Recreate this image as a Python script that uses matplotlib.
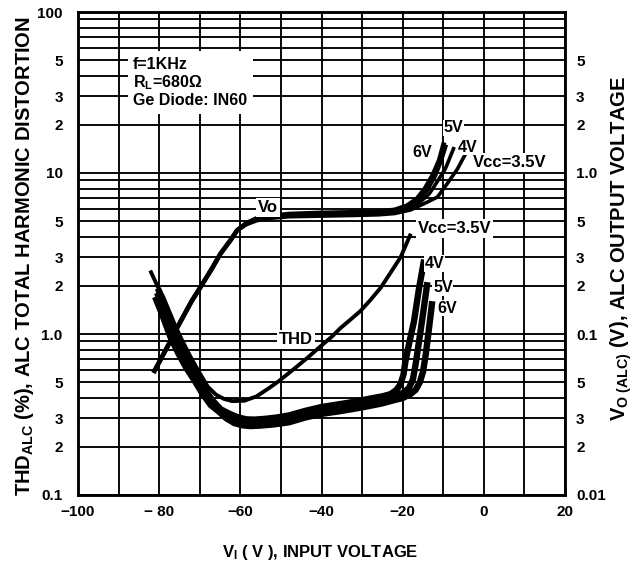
import matplotlib
matplotlib.use('Agg')
import matplotlib.pyplot as plt
from matplotlib.ticker import FixedLocator, NullLocator

plt.rcParams['font.family'] = ['Liberation Sans', 'DejaVu Sans']
plt.rcParams['font.weight'] = 'bold'
plt.rcParams['mathtext.fontset'] = 'custom'
plt.rcParams['mathtext.rm'] = 'Liberation Sans:bold'
plt.rcParams['mathtext.it'] = 'Liberation Sans:bold'
plt.rcParams['mathtext.bf'] = 'Liberation Sans:bold'
plt.rcParams['axes.unicode_minus'] = True

# ---------------- data ----------------
# Vo (ALC output voltage, V) vs input level, per supply voltage
vo_35_x = [-81.4, -78, -75.6, -72, -69.9, -67, -64.9, -62.5, -60.8, -58.5, -56, -53, -48, -40, -32, -26, -22, -18, -13.9, -11.4, -9, -6.5, -4.4]
vo_35_y = [0.0575, 0.083, 0.109, 0.16, 0.194, 0.255, 0.315, 0.38, 0.44, 0.478, 0.505, 0.522, 0.535, 0.54, 0.545, 0.55, 0.56, 0.59, 0.66, 0.71, 0.86, 1.06, 1.33]
vo_4_x = [-81.4, -78, -75.6, -72, -69.9, -67, -64.9, -62.5, -60.8, -58.5, -56, -53, -48, -40, -32, -26, -22, -19, -16, -13.5, -12.3, -9.5, -7.3]
vo_4_y = [0.0575, 0.083, 0.109, 0.16, 0.194, 0.255, 0.315, 0.38, 0.44, 0.482, 0.512, 0.53, 0.545, 0.552, 0.556, 0.56, 0.57, 0.6, 0.65, 0.74, 0.82, 1.06, 1.45]
vo_5_x = [-81.4, -78, -75.6, -72, -69.9, -67, -64.9, -62.5, -60.8, -58.5, -56, -53, -48, -40, -32, -26, -22, -19, -16, -14, -12, -10.5, -9.3]
vo_5_y = [0.0575, 0.083, 0.109, 0.16, 0.194, 0.255, 0.315, 0.38, 0.44, 0.485, 0.518, 0.536, 0.552, 0.56, 0.565, 0.57, 0.585, 0.615, 0.68, 0.78, 0.96, 1.2, 1.5]
vo_6_x = [-81.4, -78, -75.6, -72, -69.9, -67, -64.9, -62.5, -60.8, -58.5, -56, -53, -48, -40, -32, -26, -22, -19, -16.5, -14.5, -12.5, -11, -9.8]
vo_6_y = [0.0575, 0.083, 0.109, 0.16, 0.194, 0.255, 0.315, 0.38, 0.44, 0.488, 0.522, 0.54, 0.556, 0.565, 0.57, 0.575, 0.59, 0.625, 0.69, 0.8, 0.98, 1.2, 1.55]

# THD (%) vs input level, per supply voltage
thd_35_x = [-82.2, -80.5, -79, -77.5, -76, -74.5, -72.5, -70.5, -68, -66, -64, -62, -59, -56, -53, -50.5, -48.5, -46, -43.5, -40.2, -37.5, -35.3, -33, -30.4, -28, -25.4, -23, -20.5, -18]
thd_35_y = [2.48, 2.0, 1.7, 1.38, 1.12, 0.93, 0.74, 0.60, 0.47, 0.42, 0.395, 0.383, 0.385, 0.41, 0.46, 0.51, 0.56, 0.63, 0.71, 0.84, 0.96, 1.09, 1.22, 1.39, 1.62, 1.94, 2.4, 3.0, 4.2]
thd_4_x = [-80.3, -78.8, -76.8, -74.8, -72.8, -70.8, -68.8, -66.8, -64.8, -62.5, -60.5, -58.5, -56.5, -54, -51, -48, -44, -40, -36, -32, -28, -25, -23, -21.5, -20.5, -19.8, -19.3, -18.3, -17.2, -16, -14.7]
thd_4_y = [1.92, 1.5, 1.09, 0.84, 0.67, 0.55, 0.455, 0.385, 0.34, 0.318, 0.303, 0.295, 0.294, 0.297, 0.303, 0.312, 0.333, 0.352, 0.365, 0.379, 0.397, 0.41, 0.423, 0.45, 0.49, 0.56, 0.68, 0.9, 1.2, 1.9, 2.9]
thd_5_x = [-80.5, -79, -77, -75, -73, -71, -69, -67, -65, -63, -61, -59, -57, -55, -52, -48, -44, -40, -36, -32, -28, -25, -22, -20, -18.5, -17.5, -16.8, -15.6, -14.7, -13.9]
thd_5_y = [1.8, 1.41, 1.02, 0.8, 0.64, 0.53, 0.44, 0.37, 0.335, 0.31, 0.29, 0.282, 0.28, 0.282, 0.287, 0.297, 0.318, 0.335, 0.347, 0.36, 0.377, 0.39, 0.41, 0.43, 0.46, 0.52, 0.65, 1.04, 1.5, 2.1]
thd_6_x = [-81, -79.3, -77.3, -75.3, -73.3, -71.3, -69.3, -67.3, -65.3, -63.5, -61.5, -59.5, -57.5, -55, -52, -48, -44, -40, -36, -32, -28, -25, -22, -20, -18, -16.8, -15.8, -15, -14.3, -13.6, -12.7]
thd_6_y = [1.7, 1.33, 0.97, 0.76, 0.615, 0.515, 0.425, 0.362, 0.33, 0.3, 0.28, 0.271, 0.268, 0.27, 0.274, 0.283, 0.303, 0.319, 0.33, 0.343, 0.358, 0.371, 0.389, 0.40, 0.425, 0.45, 0.5, 0.58, 0.75, 1.04, 1.6]

x_ticks = [-100, -80, -60, -40, -20, 0, 20]
x_tick_labels = ['\u2212100', '\u2212 80', '\u221260', '\u221240', '\u221220', '0', '20']
left_ticks = [0.1, 0.2, 0.3, 0.5, 1, 2, 3, 5, 10, 20, 30, 50, 100]
left_tick_labels = ['0.1', '2', '3', '5', '1.0', '2', '3', '5', '10', '2', '3', '5', '100']
right_ticks = [0.01, 0.02, 0.03, 0.05, 0.1, 0.2, 0.3, 0.5, 1, 2, 3, 5]
right_tick_labels = ['0.01', '2', '3', '5', '0.1', '2', '3', '5', '1.0', '2', '3', '5']

# ---------------- figure ----------------
W, H = 638, 567
fig = plt.figure(figsize=(W / 100, H / 100), dpi=100)
fig.patch.set_facecolor('white')
ax = fig.add_axes([78 / W, 1 - 495 / H, (565 - 78) / W, (495 - 12) / H])
ax.set_xlim(-100, 20)
ax.set_yscale('log')
ax.set_ylim(0.1, 100)

ax.xaxis.set_major_locator(FixedLocator(x_ticks))
ax.set_xticklabels(x_tick_labels)
ax.xaxis.set_minor_locator(FixedLocator([-90, -70, -50, -30, -10, 10]))
ax.yaxis.set_major_locator(FixedLocator(left_ticks))
ax.set_yticklabels(left_tick_labels)
ax.yaxis.set_minor_locator(FixedLocator([0.4, 0.6, 0.7, 0.8, 0.9, 4, 6, 7, 8, 9, 40, 60, 70, 80, 90]))
ax.tick_params(which='both', length=0)
ax.tick_params(axis='y', pad=11, labelsize=11)
ax.tick_params(axis='x', pad=7, labelsize=11)
ax.grid(which='both', color='black', linewidth=1.35)
ax.set_axisbelow(True)
for s in ax.spines.values():
    s.set_linewidth(1.8)

ax2 = ax.twinx()
ax2.set_yscale('log')
ax2.set_ylim(0.01, 10)
ax2.yaxis.set_major_locator(FixedLocator(right_ticks))
ax2.set_yticklabels(right_tick_labels)
ax2.yaxis.set_minor_locator(NullLocator())
ax2.tick_params(which='both', length=0, pad=8, labelsize=11)
for s in ax2.spines.values():
    s.set_linewidth(1.8)

# THD curves
for xs, ys in [(thd_4_x, thd_4_y), (thd_5_x, thd_5_y), (thd_6_x, thd_6_y)]:
    ax.plot(xs, ys, color='black', lw=4.6, solid_capstyle='butt', solid_joinstyle='round', zorder=3)
ax.plot(thd_35_x, thd_35_y, color='black', lw=2.8, solid_capstyle='butt', solid_joinstyle='round', zorder=3)

# Vo curves
ax2.plot(vo_35_x, vo_35_y, color='black', lw=2.6, solid_capstyle='butt', solid_joinstyle='round')
ax2.plot(vo_4_x, vo_4_y, color='black', lw=2.6, solid_capstyle='butt', solid_joinstyle='round')
ax2.plot(vo_5_x, vo_5_y, color='black', lw=3.0, solid_capstyle='butt', solid_joinstyle='round')
ax2.plot(vo_6_x, vo_6_y, color='black', lw=3.4, solid_capstyle='butt', solid_joinstyle='round')

# annotations (placed in left-axis data coordinates, drawn on top)
def lab(x, y, s, size=12, ha='center', pad=0.12):
    ax2.text(x, y, s, transform=ax.transData, ha=ha, va='center', fontsize=size,
             fontweight='bold', zorder=10,
             bbox=dict(facecolor='white', edgecolor='none', boxstyle='square,pad=%g' % pad))

ax2.text(-86.4, 36.5, 'f=1KHz\nR$_{L}$=680\u03a9\nGe Diode: IN60', transform=ax.transData,
         ha='left', va='center', fontsize=11.5, fontweight='bold', linespacing=1.12, zorder=10,
         bbox=dict(facecolor='white', edgecolor='none', boxstyle='square,pad=0.35'))
lab(-53.1, 6.1, 'Vo')
lab(-46.2, 0.92, 'THD')
lab(6.4, 11.7, 'Vcc=3.5V')
lab(-7.2, 4.53, 'Vcc=3.5V')
lab(-15.1, 13.5, '6V', size=11.5, pad=0.04)
lab(-7.4, 19.1, '5V', size=11.5, pad=0.04)
lab(-4.0, 14.5, '4V', size=11.5, pad=0.04)
lab(-12.1, 2.74, '4V', size=11.5, pad=0.04)
lab(-10.1, 1.94, '5V', size=11.5, pad=0.04)
lab(-9.1, 1.45, '6V', size=11.5, pad=0.04)

# axis titles
fig.text(25 / W, 1 - 256 / H, 'THD$_{ALC}$ (%), ALC TOTAL HARMONIC DISTORTION', rotation=90,
         ha='center', va='center', fontsize=14.5, fontweight='bold')
fig.text(621 / W, 1 - 248 / H, 'V$_{O\\ (ALC)}$ (V), ALC OUTPUT VOLTAGE', rotation=90,
         ha='center', va='center', fontsize=14.5, fontweight='bold')
fig.text(320 / W, 1 - 553 / H, 'V$_{I}$ ( V ), INPUT VOLTAGE', ha='center', va='center',
         fontsize=12, fontweight='bold')

fig.savefig('out.png', dpi=100, facecolor='white')
